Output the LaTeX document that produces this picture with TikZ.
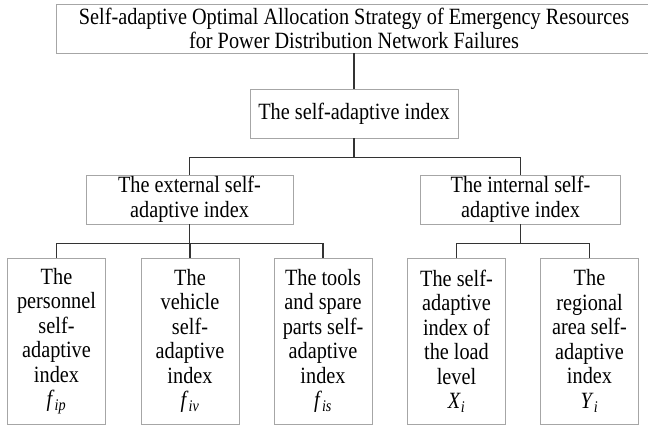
\documentclass[tikz,border=0pt]{standalone}
\usepackage{fontspec}
\setmainfont{Liberation Serif}[FakeStretch=0.87]
\newcommand{\subvar}[2]{\textit{#1}\textsubscript{\textit{#2}}}
\begin{document}
\begin{tikzpicture}[x=1pt,y=-1pt,
  box/.style={draw=black!35, line width=0.9pt, rectangle, align=center, inner sep=0pt, font=\fontsize{23.3}{24.5}\selectfont},
  leaf/.style={box, minimum width=98pt, minimum height=166pt},
  link/.style={draw=black!80, line width=1.4pt}]
\useasboundingbox (0,0) rectangle (648,429);
\node[box, minimum width=596pt, minimum height=49pt] (idx0) at (354,28.5){Self-adaptive Optimal Allocation Strategy of Emergency Resources\\for Power Distribution Network Failures};
\node[box, minimum width=208pt, minimum height=49pt] (idx1) at (354,113.5){The self-adaptive index};
\draw[link](idx0) -- (idx1);
\node[box, minimum width=207pt, minimum height=49pt] (idx2) at (189.5,199.5){The external self-\\adaptive index};
\node[box, minimum width=200pt, minimum height=49pt] (idx3) at (520.5,199.5){The internal self-\\adaptive index};
\draw[link](idx1.south) -- ++(0,19) coordinate (jn1) -| (idx2.north);
\draw[link](jn1) -| (idx3.north);
\node[leaf] (idx4) at (56.5,341){The\\personnel\\self-\\adaptive\\index\\\subvar{f}{ip}};
\node[leaf] (idx5) at (190,341){The\\vehicle\\self-\\adaptive\\index\\\subvar{f}{iv}};
\node[leaf] (idx6) at (323,341){The tools\\and spare\\parts self-\\adaptive\\index\\\subvar{f}{is}};
\draw[link](idx2.south) -- ++(0,19) coordinate (jn2) -| (idx4.north);
\draw[link](jn2) -| (idx5.north);
\draw[link](jn2) -| (idx6.north);
\node[leaf] (idx7) at (456.5,341){The self-\\adaptive\\index of\\the load\\level\\\subvar{X}{i}};
\node[leaf] (idx8) at (589.5,341){The\\regional\\area self-\\adaptive\\index\\\subvar{Y}{i}};
\draw[link](idx3.south) -- ++(0,19) coordinate (jn3) -| (idx7.north);
\draw[link](jn3) -| (idx8.north);
\end{tikzpicture}
\end{document}
